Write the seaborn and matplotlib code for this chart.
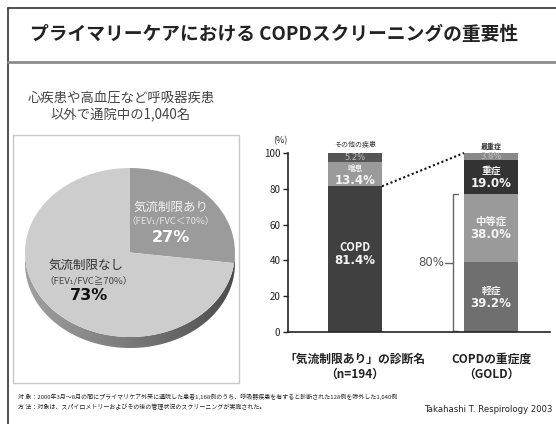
import numpy as np
import matplotlib
matplotlib.use("Agg")
import matplotlib.pyplot as plt
from matplotlib.patches import Polygon, Rectangle
from matplotlib.colors import LinearSegmentedColormap
import seaborn as sns

# ---------------- data ----------------
title = "プライマリーケアにおける COPDスクリーニングの重要性"
subtitle = "心疾患や高血圧など呼吸器疾患\n以外で通院中の1,040名"

pie_labels = ["気流制限あり", "気流制限なし"]
pie_sub = ["（FEV₁/FVC＜70%）", "（FEV₁/FVC≧70%）"]
pie_values = [27, 73]

bar_categories = ["「気流制限あり」の診断名\n（n=194）", "COPDの重症度\n（GOLD）"]
diag_labels = ["COPD", "喘息", "その他の疾患"]
diag_values = [81.4, 13.4, 5.2]
sev_labels = ["軽症", "中等症", "重症", "最重症"]
sev_values = [39.2, 38.0, 19.0, 3.8]
yticks = [0, 20, 40, 60, 80, 100]
bracket_label = "80%"

footer1 = "対 象：2000年3月～8月の間にプライマリケア外来に通院した患者1,168例のうち、呼吸器疾患を有すると診断された128例を除外した1,040例"
footer2 = "方 法：対象は、スパイロメトリーおよびその後の管理状況のスクリーニングが実施された。"
source = "Takahashi T. Respirology 2003"

# ---------------- style ----------------
sns.set_theme(style="white")
FAM = ["Noto Sans CJK JP", "DejaVu Sans"]
plt.rcParams["font.family"] = FAM

W, H = 556, 424
fig = plt.figure(figsize=(W / 100, H / 100), dpi=100)
fig.patch.set_facecolor("white")

def fx(px):
    return px / W

def fy(py):
    return 1 - py / H

# background overlay for decorations (pixel coords)
ov = fig.add_axes([0, 0, 1, 1], zorder=-1)
ov.set_xlim(0, W)
ov.set_ylim(H, 0)
ov.axis("off")

ov.plot([8, 8], [8, H], color="#333333", lw=1.2)
ov.plot([8, W], [8, 8], color="#333333", lw=1.2)
ov.plot([8, W], [62, 62], color="#8c8c8c", lw=2)
ov.text(30, 34, title, fontsize=13.5, fontweight="bold", color="#222222",
        va="center", ha="left")
ov.text(121, 106, subtitle, fontsize=9.6, color="#444444", ha="center",
        va="center", linespacing=1.3)
ov.add_patch(Rectangle((13, 135), 226, 248, fill=False, ec="#c8c8c8", lw=1))

ov.text(18, 397, footer1, fontsize=4.3, color="#222222", va="center")
ov.text(18, 407, footer2, fontsize=4.3, color="#222222", va="center")
ov.text(424, 410, source, fontsize=6.1, color="#222222", va="center",
        family=["DejaVu Sans"])

# ---------------- pie ----------------
depth_px, ry_px = 11, 84.5
d = depth_px / ry_px
axp = fig.add_axes([fx(25), fy(168 + 2 * ry_px + depth_px), fx(210),
                    (2 * ry_px + depth_px) / H])
t = np.linspace(np.pi, 2 * np.pi, 200)
side = np.concatenate([np.c_[np.cos(t), np.sin(t)],
                       np.c_[np.cos(t[::-1]), np.sin(t[::-1]) - d]])
poly = Polygon(side, closed=True, fc="none", ec="none")
axp.add_patch(poly)
cmap = LinearSegmentedColormap.from_list("side", ["#a0a0a0", "#7a7a7a", "#4c4c4c"])
grad = np.linspace(0, 1, 256)[None, :]
im = axp.imshow(grad, extent=[-1, 1, -1 - d, 0], cmap=cmap, aspect="auto",
                zorder=1)
im.set_clip_path(poly)
wedges, _ = axp.pie(pie_values, colors=["#9b9b9b", "#cdcdcd"], startangle=90,
                    counterclock=False, radius=1, center=(0, 0),
                    wedgeprops=dict(linewidth=0, zorder=2))
axp.set_aspect("auto")
axp.set_xlim(-1, 1)
axp.set_ylim(-1 - d, 1)
axp.axis("off")

# top overlay for pie texts
top = fig.add_axes([0, 0, 1, 1], zorder=5)
top.set_xlim(0, W)
top.set_ylim(H, 0)
top.axis("off")
top.patch.set_alpha(0)

top.text(171, 207, pie_labels[0], fontsize=9, color="#f2f2f2", ha="center", va="center")
top.text(171, 221, pie_sub[0], fontsize=6.8, color="#e6e6e6", ha="center", va="center")
top.text(171, 237, f"{pie_values[0]}%", fontsize=11.5, fontweight="bold",
         color="#ffffff", ha="center", va="center", family=["DejaVu Sans"])
top.text(86, 265, pie_labels[1], fontsize=9, color="#333333", ha="center", va="center")
top.text(89, 281, pie_sub[1], fontsize=6.8, color="#444444", ha="center", va="center")
top.text(89, 296, f"{pie_values[1]}%", fontsize=11.5, fontweight="bold",
         color="#111111", ha="center", va="center", family=["DejaVu Sans"])

# ---------------- stacked bars ----------------
axb = fig.add_axes([fx(288), fy(332), fx(550 - 288), 179 / H])
bw = 54 / 136
diag_colors = ["#404040", "#9a9a9a", "#555555"]
sev_colors = ["#6f6f6f", "#9a9a9a", "#333333", "#8a8a8a"]

def stack(cat, values, colors):
    cum = np.cumsum(values)
    for i in reversed(range(len(values))):
        sns.barplot(x=[cat], y=[cum[i]], order=bar_categories, color=colors[i],
                    saturation=1, width=bw, ax=axb, linewidth=0)
    return cum

cum_d = stack(bar_categories[0], diag_values, diag_colors)
cum_s = stack(bar_categories[1], sev_values, sev_colors)

axb.set_xlim(-67 / 136, 1 + 59 / 136)
axb.set_ylim(0, 100)
axb.set_xlabel("")
axb.set_ylabel("")
sns.despine(ax=axb)
for s in ["left", "bottom"]:
    axb.spines[s].set_color("#222222")
    axb.spines[s].set_linewidth(1.2)
axb.set_yticks(yticks)
axb.tick_params(axis="y", direction="out", length=3.5, width=1, colors="#222222",
                labelsize=7, left=True, pad=2)
axb.set_xticks([0, 1])
axb.set_xticklabels(bar_categories, fontweight="bold", fontsize=8.5,
                    color="#222222", linespacing=1.15)
axb.tick_params(axis="x", length=0, pad=15)
axb.text(-0.55, 104.5, "(%)", fontsize=6.5, color="#222222", ha="center",
         va="bottom", transform=axb.transData, clip_on=False)

def seg_labels(x, values, labels, cum, big, small_top_label):
    bottoms = cum - np.array(values)
    for i, (v, lab) in enumerate(zip(values, labels)):
        mid = bottoms[i] + v / 2
        if i == len(values) - 1:
            axb.text(x, mid, f"{v}%", fontsize=6, color="#c0c0c0", ha="center",
                     va="center", family=["DejaVu Sans"])
            axb.annotate(lab, (x, 100), xytext=(0, 2.5), textcoords="offset points",
                         fontsize=5, color="#333333", ha="center", va="bottom",
                         fontweight=small_top_label, annotation_clip=False)
        else:
            off = 3.0 if (i == 0 and x == 0) else 0
            axb.annotate(lab, (x, mid + off), xytext=(0, 4.5), textcoords="offset points",
                         fontsize=big[i][0], color="#f4f4f4", ha="center",
                         va="center", fontweight="bold")
            axb.annotate(f"{v}%", (x, mid + off), xytext=(0, -4.5),
                         textcoords="offset points", fontsize=big[i][1],
                         color="#f4f4f4", ha="center", va="center",
                         fontweight="bold", family=["DejaVu Sans"])

seg_labels(0, diag_values, diag_labels, cum_d, [(8, 8.5), (5.5, 8.5)], "normal")
seg_labels(1, sev_values, sev_labels, cum_s, [(7, 8.5), (7.5, 8.5), (7, 8.5)], "bold")

# dotted connector from COPD top to severity bar top
axb.plot([bw / 2, 1 - bw / 2], [cum_d[0], cum_s[-1]], ls=(0, (1, 1.2)),
         color="#111111", lw=1.5, clip_on=False)

# bracket
bx = (453 - 355) / 136
top_b = cum_s[1]
axb.plot([bx + 0.035, bx, bx, bx + 0.035], [top_b, top_b, 0.6, 0.6],
         color="#666666", lw=1)
axb.plot([bx - 0.06, bx], [top_b / 2, top_b / 2], color="#666666", lw=1)
axb.text(bx - 0.065, top_b / 2, bracket_label, fontsize=8.5, color="#555555",
         ha="right", va="center", family=["DejaVu Sans"])

fig.savefig("out.png", dpi=100)
